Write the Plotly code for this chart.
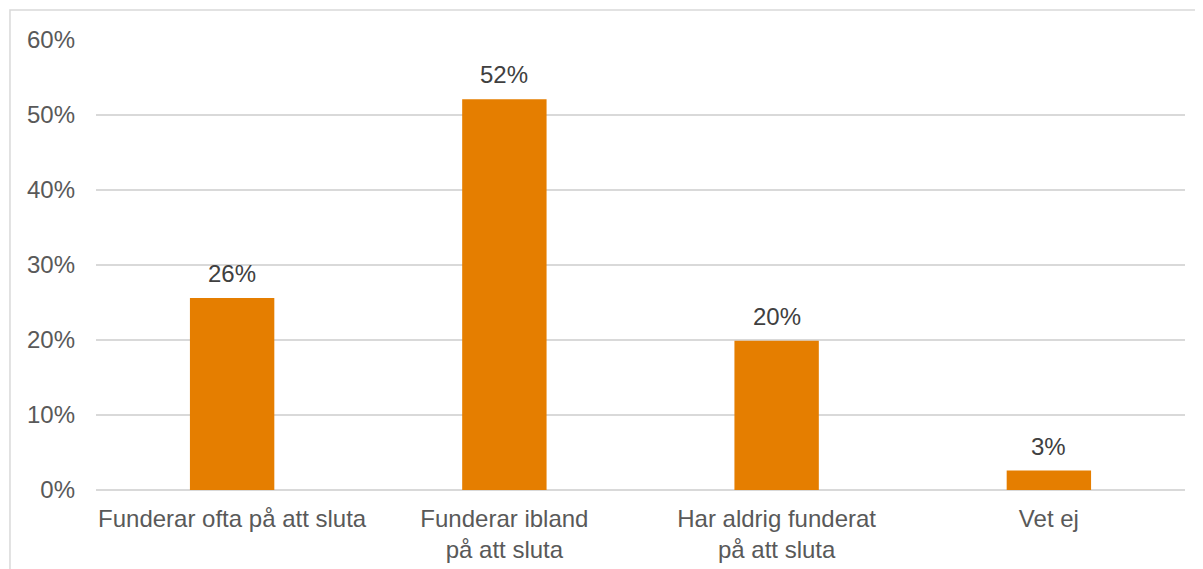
import plotly.graph_objects as go

categories = ["Funderar ofta på att sluta", "Funderar ibland<br>på att sluta",
              "Har aldrig funderat<br>på att sluta", "Vet ej"]
values = [25.6, 52.1, 19.9, 2.6]
ytick_vals = [0, 10, 20, 30, 40, 50, 60]
ytick_text = ["0%", "10%", "20%", "30%", "40%", "50%", "60%"]

fig = go.Figure()
fig.add_trace(go.Bar(
    x=categories, y=values,
    marker=dict(color="#E57E00", line=dict(width=0)),
))

for c, v in zip(categories, values):
    fig.add_annotation(x=c, y=v, text=f"{v:.0f}%", showarrow=False,
                       yanchor="bottom", yshift=9,
                       font=dict(family="Liberation Sans, Arial", size=24, color="#404040"))

fig.update_layout(
    width=1195, height=561,
    margin=dict(l=88, r=18, t=32, b=79, autoexpand=False),
    paper_bgcolor="white", plot_bgcolor="white",
    bargap=0.69, showlegend=False,
    font=dict(family="Liberation Sans, Arial", size=24, color="#595959"),
    xaxis=dict(showgrid=False, ticks="", ticklabelstandoff=12, showline=False,
               automargin=False, tickfont=dict(size=24, color="#595959")),
    yaxis=dict(range=[0, 60], tickvals=ytick_vals, ticktext=ytick_text,
               showgrid=True, gridcolor="#D9D9D9", gridwidth=1.5,
               zeroline=True, zerolinecolor="#D9D9D9", zerolinewidth=1.5,
               ticks="", ticklabelstandoff=20, showline=False,
               automargin=False, tickfont=dict(size=24, color="#595959")),
    shapes=[dict(type="rect", xref="paper", yref="paper",
                 x0=-0.079, x1=1.1, y0=-0.5, y1=1.0667,
                 line=dict(color="#D9D9D9", width=1.5), layer="below")],
)

fig.write_html("out.html")
